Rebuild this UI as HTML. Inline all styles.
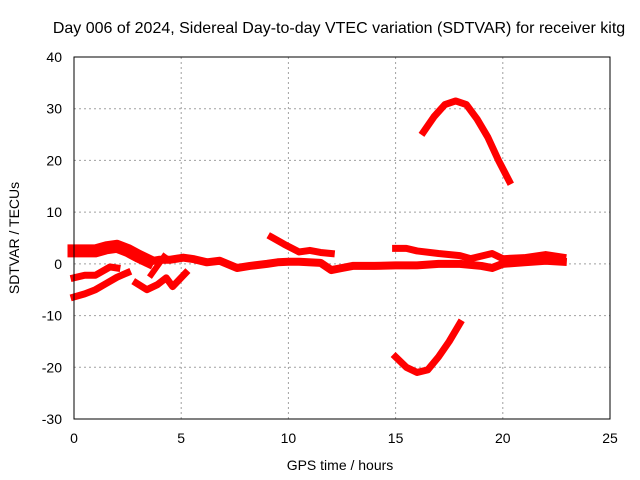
<!DOCTYPE html>
<html><head><meta charset="utf-8"><style>
body{margin:0;background:#fff;}
svg{display:block;font-family:"Liberation Sans",sans-serif;}
</style></head><body>
<svg id="chart" width="640" height="480" viewBox="0 0 640 480">
<rect width="640" height="480" fill="#fff"/>
<g id="grid"></g>
<g id="series"></g>
<rect x="74" y="57" width="536" height="362" fill="none" stroke="#000" stroke-width="1"/>
<g id="ticks"></g>
<text x="339" y="33" font-size="16" text-anchor="middle">Day 006 of 2024, Sidereal Day-to-day VTEC variation (SDTVAR) for receiver kitg</text>
<text x="340" y="470" font-size="14" text-anchor="middle">GPS time / hours</text>
<text x="19" y="238" font-size="14" text-anchor="middle" transform="rotate(-90 19 238)">SDTVAR / TECUs</text>
</svg>
<script>
const xTicks=[0,5,10,15,20,25];
const yTicks=[-30,-20,-10,0,10,20,30,40];
const arcTop=[[16.3,25.5],[16.8,28.5],[17.3,30.8],[17.8,31.5],[18.3,30.8],[18.8,28],[19.3,24.5],[19.8,20],[20.3,16]];
const arcBottom=[[15,-18],[15.5,-20],[16,-21],[16.5,-20.5],[17,-18],[17.5,-15],[18,-11.5]];
const bandStart=[[0,2.5],[0.5,2.5],[1,2.5],[1.5,3.1],[2,3.4],[2.5,2.6],[3,1.5],[3.45,0.6]];
const bandMain=[[3.45,0.4],[4,0.8],[4.5,0.8],[5.1,1.2],[5.6,0.9],[6.2,0.3],[6.8,0.6],[7.6,-0.8],[8.2,-0.4],[9,0],[9.5,0.3],[10,0.4],[10.5,0.4],[11.5,0.2],[12,-1.2],[12.5,-0.8],[13,-0.4],[14,-0.4],[15,-0.3],[16,-0.3],[17,0],[18,0],[19,-0.4],[19.5,-0.8],[20,0],[21,0.3],[22,0.6],[22.8,0.4]];
const lowA=[[0,-2.7],[0.5,-2.2],[1,-2.2],[1.68,-0.6],[2,-0.8]];
const lowB=[[0,-6.4],[0.5,-5.8],[1,-5],[1.5,-3.8],[2,-2.6],[2.5,-1.7]];
const lowC=[[2.9,-3.7],[3.4,-5],[3.9,-4],[4.3,-2.7],[4.6,-4.4],[5.2,-1.8]];
const lowD=[[3.6,-2.1],[4.2,1.4]];
const upA=[[9.2,5.2],[9.8,3.8],[10.5,2.3],[11,2.6],[11.5,2.2],[12,2]];
const upB=[[15,3],[15.5,3],[16,2.5],[17,2],[18,1.6],[18.5,1]];
const upC=[[18.5,1],[19.5,2],[20,1],[21,1.2],[22,1.8],[22.8,1.3]];
const allSeries=[[arcTop,7,'arc-top'],[arcBottom,7,'arc-bottom'],[bandStart,13,'band-start'],[bandMain,8,'band-main'],[lowA,7,'series-low-a'],[lowB,7,'series-low-b'],[lowC,7,'series-low-c'],[lowD,6,'series-low-d'],[upA,7,'series-up-a'],[upB,7,'series-up-b'],[upC,7,'series-up-c']];
const X=h=>74+(h-0)*536/25;
const Y=v=>419-(v+30)*362/70;
const NS='http://www.w3.org/2000/svg';
const grid=document.getElementById('grid'),ticks=document.getElementById('ticks'),ser=document.getElementById('series');
xTicks.forEach(t=>{
 const x=X(t);
 if(t>0&&t<25){const l=document.createElementNS(NS,'line');l.setAttribute('x1',x);l.setAttribute('x2',x);l.setAttribute('y1',57);l.setAttribute('y2',419);l.setAttribute('stroke','#a0a0a0');l.setAttribute('stroke-dasharray','2,3');
 
 grid.appendChild(l);}
 const tx=document.createElementNS(NS,'text');tx.setAttribute('x',x);tx.setAttribute('y',443);tx.setAttribute('font-size','14');tx.setAttribute('text-anchor','middle');tx.textContent=t;
 
 ticks.appendChild(tx);
});
yTicks.forEach(t=>{
 const y=Y(t);
 if(t>-30&&t<40){const l=document.createElementNS(NS,'line');l.setAttribute('x1',74);l.setAttribute('x2',610);l.setAttribute('y1',y);l.setAttribute('y2',y);l.setAttribute('stroke','#a0a0a0');l.setAttribute('stroke-dasharray','2,3');
 
 grid.appendChild(l);}
 const tx=document.createElementNS(NS,'text');tx.setAttribute('x',62);tx.setAttribute('y',y+5);tx.setAttribute('font-size','14');tx.setAttribute('text-anchor','end');tx.textContent=t;
 
 ticks.appendChild(tx);
});
allSeries.forEach(([pts,w,name])=>{
 const p=document.createElementNS(NS,'polyline');
 p.setAttribute('points',pts.map(d=>X(d[0])+','+Y(d[1])).join(' '));
 p.setAttribute('fill','none');p.setAttribute('stroke','#ff0000');p.setAttribute('stroke-width',w);p.setAttribute('stroke-linejoin','round');p.setAttribute('stroke-linecap','square');
 
 
 ser.appendChild(p);
});
</script>
</body></html>
